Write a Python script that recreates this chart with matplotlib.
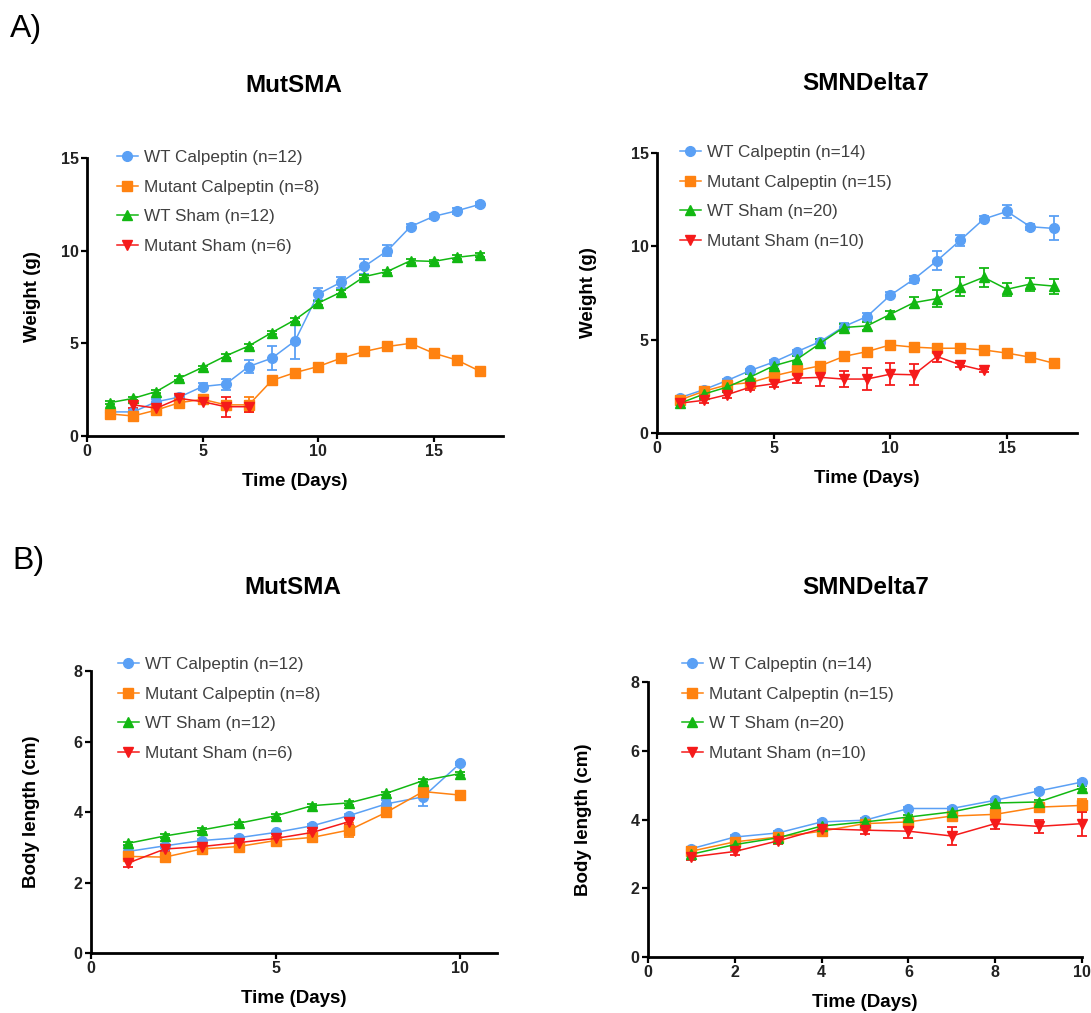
import matplotlib
matplotlib.use("Agg")
import matplotlib.pyplot as plt

plt.rcParams['font.family'] = ['Liberation Sans', 'DejaVu Sans']

# ---------------- data ----------------
# A) body weight (g)
days_w = list(range(1, 18))

mut_wt_calp_w = [1.3, 1.3, 1.85, 2.1, 2.67, 2.8, 3.75, 4.2, 5.13, 7.66, 8.3, 9.15, 10.0, 11.3, 11.85, 12.15, 12.5]
mut_wt_calp_w_err = [0.1, 0.1, 0.15, 0.15, 0.2, 0.3, 0.35, 0.65, 1.0, 0.3, 0.3, 0.4, 0.3, 0.15, 0.15, 0.15, 0.15]
mut_mut_calp_w = [1.19, 1.08, 1.4, 1.8, 1.98, 1.68, 1.68, 3.0, 3.42, 3.75, 4.2, 4.56, 4.83, 5.0, 4.47, 4.1, 3.5]
mut_mut_calp_w_err = [0.1, 0.1, 0.15, 0.15, 0.1, 0.2, 0.4, 0.15, 0.1, 0.1, 0.1, 0.1, 0.1, 0.1, 0.1, 0.1, 0.1]
mut_wt_sham_w = [1.8, 2.03, 2.4, 3.12, 3.7, 4.32, 4.86, 5.58, 6.27, 7.17, 7.77, 8.6, 8.88, 9.46, 9.42, 9.64, 9.78]
mut_wt_sham_w_err = [0.1] * 17
days_mut_sham_w = [2, 3, 4, 5, 6, 7]
mut_mut_sham_w = [1.68, 1.5, 2.03, 1.85, 1.58, 1.58]
mut_mut_sham_w_err = [0.15, 0.3, 0.15, 0.15, 0.55, 0.3]

d7_wt_calp_w = [1.9, 2.32, 2.81, 3.35, 3.8, 4.36, 4.9, 5.7, 6.24, 7.38, 8.23, 9.23, 10.33, 11.46, 11.87, 11.05, 10.96]
d7_wt_calp_w_err = [0.1, 0.1, 0.1, 0.1, 0.1, 0.1, 0.15, 0.2, 0.2, 0.15, 0.2, 0.5, 0.3, 0.15, 0.35, 0.15, 0.64]
d7_mut_calp_w = [1.78, 2.23, 2.58, 2.7, 3.06, 3.35, 3.6, 4.1, 4.36, 4.72, 4.6, 4.54, 4.54, 4.45, 4.28, 4.06, 3.74]
d7_mut_calp_w_err = [0.1, 0.1, 0.1, 0.1, 0.1, 0.1, 0.1, 0.1, 0.1, 0.15, 0.2, 0.15, 0.2, 0.15, 0.1, 0.1, 0.1]
d7_wt_sham_w = [1.6, 2.08, 2.46, 3.0, 3.6, 3.95, 4.81, 5.65, 5.74, 6.36, 6.98, 7.2, 7.84, 8.34, 7.7, 7.98, 7.87]
d7_wt_sham_w_err = [0.1, 0.1, 0.1, 0.15, 0.15, 0.15, 0.2, 0.2, 0.2, 0.2, 0.3, 0.45, 0.5, 0.5, 0.35, 0.35, 0.4]
days_d7_mut_sham_w = list(range(1, 15))
d7_mut_sham_w = [1.6, 1.75, 2.05, 2.46, 2.64, 2.94, 2.98, 2.89, 2.89, 3.15, 3.12, 4.1, 3.65, 3.35]
d7_mut_sham_w_err = [0.1, 0.15, 0.15, 0.15, 0.15, 0.25, 0.45, 0.45, 0.6, 0.6, 0.55, 0.3, 0.1, 0.1]

# B) body length (cm)
days_l = list(range(1, 11))

mut_wt_calp_l = [2.88, 3.04, 3.19, 3.27, 3.42, 3.61, 3.9, 4.23, 4.43, 5.38]
mut_wt_calp_l_err = [0.15, 0.05, 0.05, 0.05, 0.05, 0.05, 0.05, 0.1, 0.25, 0.05]
mut_mut_calp_l = [2.74, 2.72, 2.95, 3.02, 3.19, 3.28, 3.49, 3.99, 4.58, 4.48]
mut_mut_calp_l_err = [0.1, 0.1, 0.05, 0.05, 0.05, 0.05, 0.2, 0.1, 0.1, 0.05]
mut_wt_sham_l = [3.11, 3.32, 3.49, 3.68, 3.89, 4.18, 4.26, 4.53, 4.89, 5.09]
mut_wt_sham_l_err = [0.05] * 10
days_mut_sham_l = [1, 2, 3, 4, 5, 6, 7]
mut_mut_sham_l = [2.55, 2.95, 3.02, 3.13, 3.25, 3.42, 3.73]
mut_mut_sham_l_err = [0.1, 0.05, 0.05, 0.05, 0.05, 0.05, 0.1]

d7_wt_calp_l = [3.15, 3.49, 3.61, 3.93, 3.98, 4.32, 4.32, 4.56, 4.83, 5.09]
d7_wt_calp_l_err = [0.05] * 10
d7_mut_calp_l = [3.08, 3.35, 3.49, 3.66, 3.88, 3.93, 4.1, 4.15, 4.36, 4.41]
d7_mut_calp_l_err = [0.05, 0.05, 0.05, 0.05, 0.05, 0.05, 0.05, 0.05, 0.1, 0.2]
d7_wt_sham_l = [2.99, 3.27, 3.47, 3.81, 3.93, 4.07, 4.22, 4.48, 4.51, 4.93]
d7_wt_sham_l_err = [0.05] * 10
d7_mut_sham_l = [2.91, 3.07, 3.38, 3.73, 3.69, 3.66, 3.52, 3.88, 3.8, 3.88]
d7_mut_sham_l_err = [0.1, 0.1, 0.1, 0.1, 0.1, 0.2, 0.25, 0.15, 0.2, 0.35]

labels_mut = ["WT Calpeptin (n=12)", "Mutant Calpeptin (n=8)", "WT Sham (n=12)", "Mutant Sham (n=6)"]
labels_d7 = ["WT Calpeptin (n=14)", "Mutant Calpeptin (n=15)", "WT Sham (n=20)", "Mutant Sham (n=10)"]
labels_d7_len = ["W T Calpeptin (n=14)", "Mutant Calpeptin (n=15)", "W T Sham (n=20)", "Mutant Sham (n=10)"]

# ---------------- styling ----------------
colors = ["#5AA0F5", "#FF8210", "#12B812", "#F51A1A"]
markers = ["o", "s", "^", "v"]

W, H = 1091, 1013
fig = plt.figure(figsize=(W / 100, H / 100), dpi=100)


def px_axes(left, right, top, bottom):
    return fig.add_axes([left / W, 1 - bottom / H, (right - left) / W, (bottom - top) / H])


def draw_panel(ax, series, labels, xlim, ylim, xticks, yticks, ylabel, leg_xy, ylab_x):
    handles = []
    for (x, y, e), lab, c, m in zip(series, labels, colors, markers):
        cont = ax.errorbar(x, y, yerr=e, color=c, marker=m, markersize=7, lw=1.1,
                           elinewidth=1.3, capsize=3.5, capthick=1.3,
                           clip_on=False)
        line = cont.lines[0]
        line.set_label(lab)
        handles.append(line)
    ax.set_xlim(*xlim)
    ax.set_ylim(*ylim)
    ax.set_xticks(xticks)
    ax.set_yticks(yticks)
    for s in ("top", "right"):
        ax.spines[s].set_visible(False)
    for s in ("left", "bottom"):
        ax.spines[s].set_linewidth(2.0)
    ax.tick_params(length=4, width=1.6, pad=2)
    for t in ax.get_xticklabels() + ax.get_yticklabels():
        t.set_fontweight("bold")
        t.set_fontsize(11.5)
        t.set_color("#222222")
    ax.set_xlabel("Time (Days)", fontsize=13.5, fontweight="bold", labelpad=10)
    ax.set_ylabel(ylabel, fontsize=13.5, fontweight="bold")
    ax.yaxis.set_label_coords(ylab_x, 0.5)
    leg = ax.legend(handles, labels, loc="upper left",
                    bbox_to_anchor=(leg_xy[0] / W, 1 - leg_xy[1] / H),
                    bbox_transform=fig.transFigure, frameon=False,
                    fontsize=12.3, handlelength=1.2, handletextpad=0.4,
                    labelspacing=0.86, borderpad=0, borderaxespad=0)
    for t in leg.get_texts():
        t.set_color("#404040")
    return ax


# A) weight, MutSMA
ax1 = px_axes(87, 503, 158, 436)
draw_panel(ax1,
           [(days_w, mut_wt_calp_w, mut_wt_calp_w_err),
            (days_w, mut_mut_calp_w, mut_mut_calp_w_err),
            (days_w, mut_wt_sham_w, mut_wt_sham_w_err),
            (days_mut_sham_w, mut_mut_sham_w, mut_mut_sham_w_err)],
           labels_mut, (0, 18), (0, 15), [0, 5, 10, 15], [0, 5, 10, 15],
           "Weight (g)", (117, 150), -0.11)

# A) weight, SMNDelta7
ax2 = px_axes(657, 1077, 153, 433)
draw_panel(ax2,
           [(days_w, d7_wt_calp_w, d7_wt_calp_w_err),
            (days_w, d7_mut_calp_w, d7_mut_calp_w_err),
            (days_w, d7_wt_sham_w, d7_wt_sham_w_err),
            (days_d7_mut_sham_w, d7_mut_sham_w, d7_mut_sham_w_err)],
           labels_d7, (0, 18), (0, 15), [0, 5, 10, 15], [0, 5, 10, 15],
           "Weight (g)", (680, 145), -0.143)

# B) body length, MutSMA
ax3 = px_axes(91, 497, 671, 953)
draw_panel(ax3,
           [(days_l, mut_wt_calp_l, mut_wt_calp_l_err),
            (days_l, mut_mut_calp_l, mut_mut_calp_l_err),
            (days_l, mut_wt_sham_l, mut_wt_sham_l_err),
            (days_mut_sham_l, mut_mut_sham_l, mut_mut_sham_l_err)],
           labels_mut, (0, 11), (0, 8), [0, 5, 10], [0, 2, 4, 6, 8],
           "Body length (cm)", (118, 657), -0.125)

# B) body length, SMNDelta7
ax4 = px_axes(648, 1082, 682, 957)
draw_panel(ax4,
           [(days_l, d7_wt_calp_l, d7_wt_calp_l_err),
            (days_l, d7_mut_calp_l, d7_mut_calp_l_err),
            (days_l, d7_wt_sham_l, d7_wt_sham_l_err),
            (days_l, d7_mut_sham_l, d7_mut_sham_l_err)],
           labels_d7_len, (0, 10), (0, 8), [0, 2, 4, 6, 8, 10], [0, 2, 4, 6, 8],
           "Body length (cm)", (682, 657), -0.129)

# titles and panel letters
fig.text(294 / W, 1 - 85 / H, "MutSMA", ha="center", va="center", fontsize=17.5, fontweight="bold")
fig.text(866 / W, 1 - 83 / H, "SMNDelta7", ha="center", va="center", fontsize=17.5, fontweight="bold")
fig.text(293 / W, 1 - 587 / H, "MutSMA", ha="center", va="center", fontsize=17.5, fontweight="bold")
fig.text(866 / W, 1 - 587 / H, "SMNDelta7", ha="center", va="center", fontsize=17.5, fontweight="bold")
fig.text(26 / W, 1 - 29 / H, "A)", ha="center", va="center", fontsize=23)
fig.text(28 / W, 1 - 561 / H, "B)", ha="center", va="center", fontsize=23)

fig.savefig("out.png", dpi=100)
